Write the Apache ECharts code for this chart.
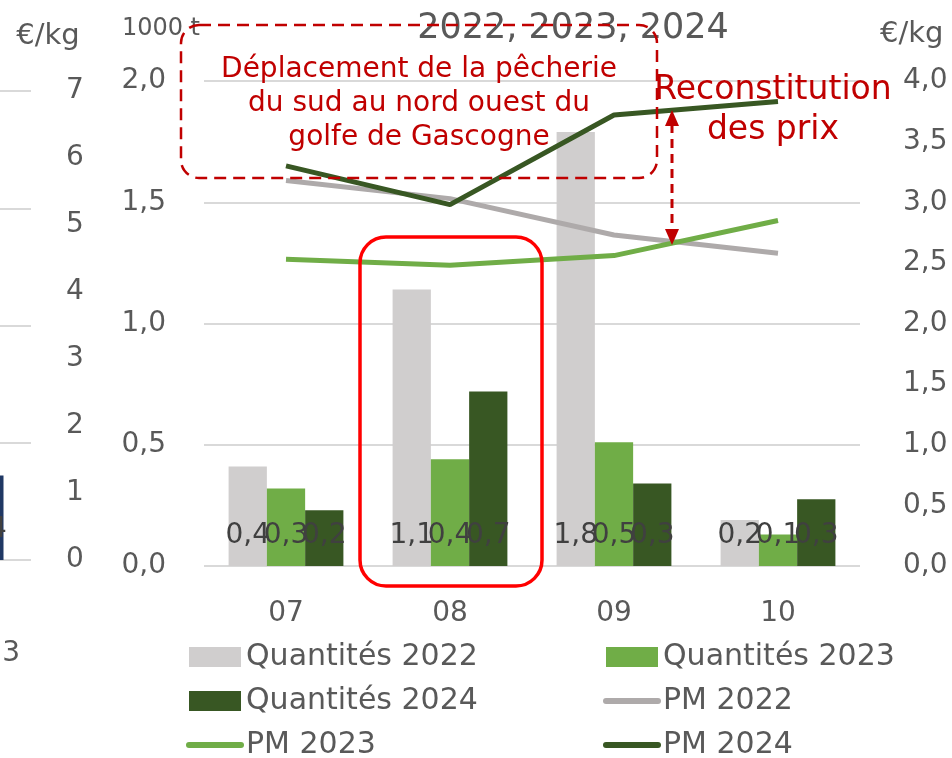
<!DOCTYPE html>
<html>
<head>
<meta charset="utf-8">
<script src="https://cdn.jsdelivr.net/npm/echarts@6/dist/echarts.min.js"></script>
<style>
html,body{margin:0;padding:0;background:#fff;}
#c{width:952px;height:758px;}
</style>
</head>
<body>
<div id="c"></div>
<script>
// ---- data ----
var categories = ['07', '08', '09', '10'];
var qty2022 = [0.41, 1.14, 1.79, 0.19];
var qty2023 = [0.32, 0.44, 0.51, 0.13];
var qty2024 = [0.23, 0.72, 0.34, 0.275];
var pm2022 = [3.18, 3.03, 2.73, 2.58];
var pm2023 = [2.53, 2.48, 2.56, 2.85];
var pm2024 = [3.30, 2.98, 3.72, 3.83];
var qtyTicks = [0, 0.5, 1, 1.5, 2];
var priceTicks = [0, 0.5, 1, 1.5, 2, 2.5, 3, 3.5, 4];
// neighbouring (cropped) chart on the left
var leftCategories = ['2023'];
var leftValues = [0.36];
var leftPriceTicks = [0, 1, 2, 3, 4, 5, 6, 7];

var FONT = 'DejaVu Sans';
var GREY_TXT = '#595959';
var RED_TXT = '#C00000';
var fmt1 = function (v) { return v.toFixed(1).replace('.', ','); };

var chart = echarts.init(document.getElementById('c'), null, {renderer: 'canvas'});

var barLabel = {
  show: true, position: 'insideBottom', distance: 16,
  fontFamily: FONT, fontSize: 28, color: '#404040',
  formatter: function (p) { return fmt1(p.value); }
};
var axisTxt = {fontFamily: FONT, fontSize: 28, color: GREY_TXT};
var lineIcon = {itemStyle: {opacity: 0}, lineStyle: {width: 6, cap: 'round'}};
function legendItem(name, extra) { return Object.assign({name: name}, extra); }

var legendBase = {
  top: 642, height: 150, orient: 'vertical', padding: 0, itemGap: 14,
  itemWidth: 52, itemHeight: 20,
  textStyle: {fontFamily: FONT, fontSize: 30, color: GREY_TXT, lineHeight: 30}
};

var option = {
  animation: false,
  backgroundColor: '#fff',
  textStyle: {fontFamily: FONT},
  title: {
    text: '2022, 2023, 2024', left: 568, top: 6, textAlign: 'center',
    textStyle: {fontFamily: FONT, fontSize: 35, fontWeight: 'normal', color: GREY_TXT}
  },
  grid: [
    {left: 204, right: 92, top: 81, bottom: 192, outerBoundsMode: 'none', containLabel: false},
    {left: -62, right: 921, top: 91, bottom: 198, outerBoundsMode: 'none', containLabel: false}
  ],
  xAxis: [
    {
      type: 'category', gridIndex: 0, data: categories,
      axisLine: {show: false}, axisTick: {show: false},
      axisLabel: Object.assign({margin: 34}, axisTxt)
    },
    {
      type: 'category', gridIndex: 1, data: leftCategories,
      axisLine: {show: false}, axisTick: {show: false},
      axisLabel: Object.assign({margin: 80}, axisTxt)
    }
  ],
  yAxis: [
    {
      type: 'value', gridIndex: 0, min: qtyTicks[0], max: qtyTicks[qtyTicks.length - 1], interval: 0.5,
      name: '1000 t', nameLocation: 'end', nameGap: 40,
      nameTextStyle: {fontFamily: FONT, fontSize: 24, color: GREY_TXT, align: 'right', padding: [0, 4, 0, 0]},
      axisLine: {show: false}, axisTick: {show: false},
      axisLabel: Object.assign({margin: 38, formatter: fmt1}, axisTxt),
      splitLine: {lineStyle: {color: '#D9D9D9', width: 2}}
    },
    {
      type: 'value', gridIndex: 0, position: 'right', min: priceTicks[0], max: priceTicks[priceTicks.length - 1], interval: 0.5,
      name: '€/kg', nameLocation: 'end', nameGap: 32,
      nameTextStyle: {fontFamily: FONT, fontSize: 29, color: GREY_TXT, align: 'left', padding: [0, 0, 0, 20]},
      axisLine: {show: false}, axisTick: {show: false},
      axisLabel: Object.assign({margin: 43, formatter: fmt1}, axisTxt),
      splitLine: {show: false}
    },
    {
      type: 'value', gridIndex: 1, min: 0, max: 2, interval: 0.5,
      axisLine: {show: false}, axisTick: {show: false}, axisLabel: {show: false},
      splitLine: {lineStyle: {color: '#D9D9D9', width: 2}}
    },
    {
      type: 'value', gridIndex: 1, position: 'right', min: leftPriceTicks[0], max: leftPriceTicks[leftPriceTicks.length - 1], interval: 1,
      name: '€/kg', nameLocation: 'end', nameGap: 40,
      nameTextStyle: {fontFamily: FONT, fontSize: 29, color: GREY_TXT, align: 'center', padding: [0, 0, 0, 34]},
      axisLine: {show: false}, axisTick: {show: false},
      axisLabel: Object.assign({margin: 35}, axisTxt),
      splitLine: {show: false}
    }
  ],
  legend: [
    Object.assign({left: 186, data: [
      legendItem('Quantités 2022', {icon: 'rect'}),
      legendItem('Quantités 2024', {icon: 'rect'}),
      legendItem('PM 2023', lineIcon)
    ]}, legendBase),
    Object.assign({left: 603, data: [
      legendItem('Quantités 2023', {icon: 'rect'}),
      legendItem('PM 2022', lineIcon),
      legendItem('PM 2024', lineIcon)
    ]}, legendBase)
  ],
  series: [
    {name: 'Quantités 2022', type: 'bar', xAxisIndex: 0, yAxisIndex: 0, data: qty2022,
      barGap: '0%', barCategoryGap: '30%', itemStyle: {color: '#D0CECE'}, label: barLabel},
    {name: 'Quantités 2023', type: 'bar', xAxisIndex: 0, yAxisIndex: 0, data: qty2023,
      barGap: '0%', barCategoryGap: '30%', itemStyle: {color: '#70AD47'}, label: barLabel},
    {name: 'Quantités 2024', type: 'bar', xAxisIndex: 0, yAxisIndex: 0, data: qty2024,
      barGap: '0%', barCategoryGap: '30%', itemStyle: {color: '#385723'}, label: barLabel},
    {name: 'PM 2022', type: 'line', xAxisIndex: 0, yAxisIndex: 1, data: pm2022, z: 5,
      symbol: 'none', lineStyle: {color: '#AEAAAA', width: 5}, itemStyle: {color: '#AEAAAA'}},
    {name: 'PM 2023', type: 'line', xAxisIndex: 0, yAxisIndex: 1, data: pm2023, z: 5,
      symbol: 'none', lineStyle: {color: '#70AD47', width: 5}, itemStyle: {color: '#70AD47'}},
    {name: 'PM 2024', type: 'line', xAxisIndex: 0, yAxisIndex: 1, data: pm2024, z: 5,
      symbol: 'none', lineStyle: {color: '#385723', width: 5}, itemStyle: {color: '#385723'}},
    {name: 'left', type: 'bar', xAxisIndex: 1, yAxisIndex: 2, data: leftValues, barWidth: 38,
      itemStyle: {color: '#203864'}, label: barLabel}
  ],
  graphic: [
    // dashed annotation box
    {type: 'rect', z: 100, shape: {x: 181, y: 25, width: 476, height: 153, r: 18},
      style: {fill: 'none', stroke: RED_TXT, lineWidth: 2.5, lineDash: [12, 7]}},
    {type: 'text', z: 100, style: {
      text: 'Déplacement de la pêcherie\ndu sud au nord ouest du\ngolfe de Gascogne',
      x: 419, y: 104, fill: RED_TXT, font: '28px "DejaVu Sans"', fontFamily: FONT, fontSize: 28,
      lineHeight: 34, textAlign: 'center', align: 'center', textVerticalAlign: 'middle', verticalAlign: 'middle'}},
    // red box around 08
    {type: 'rect', z: 100, shape: {x: 360, y: 237, width: 182, height: 349, r: 26},
      style: {fill: 'none', stroke: '#FF0000', lineWidth: 3.5}},
    // price reconstitution
    {type: 'text', z: 100, style: {
      text: 'Reconstitution\ndes prix', x: 773, y: 110, fill: RED_TXT,
      font: '33px "DejaVu Sans"', fontFamily: FONT, fontSize: 33, lineHeight: 40,
      textAlign: 'center', align: 'center', textVerticalAlign: 'middle', verticalAlign: 'middle'}},
    {type: 'line', z: 100, shape: {x1: 672, y1: 124, x2: 672, y2: 231},
      style: {stroke: RED_TXT, lineWidth: 3, lineDash: [9, 6]}},
    {type: 'polygon', z: 100, shape: {points: [[672, 110], [665, 126], [679, 126]]},
      style: {fill: RED_TXT}},
    {type: 'polygon', z: 100, shape: {points: [[672, 245], [665, 229], [679, 229]]},
      style: {fill: RED_TXT}}
  ]
};
chart.setOption(option);
</script>
</body>
</html>
